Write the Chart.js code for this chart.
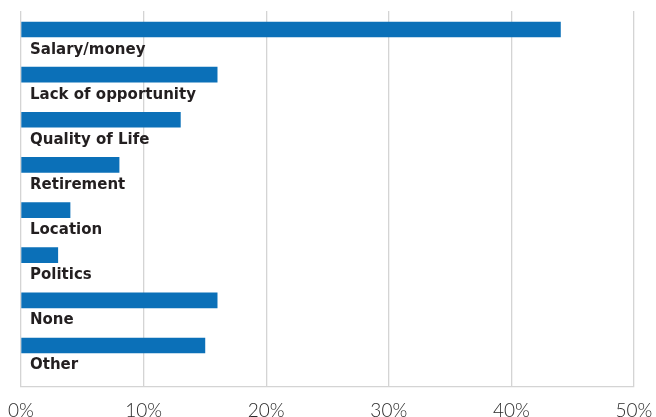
<!DOCTYPE html>
<html>
<head>
<meta charset="utf-8">
<script src="https://cdn.jsdelivr.net/npm/chart.js@4"></script>
<style>
  html, body { margin: 0; padding: 0; background: #fff; }
  #wrap { width: 656px; height: 417px; position: relative; }
</style>
</head>
<body>
<div id="wrap"><canvas id="reasons"></canvas></div>
<script>
// Reasons, share of respondents (%)
const categories = ['Salary/money', 'Lack of opportunity', 'Quality of Life', 'Retirement', 'Location', 'Politics', 'None', 'Other'];
const shares = [44, 16, 13, 8, 4, 3, 16, 15];
const xTicks = [0, 10, 20, 30, 40, 50];

const barBlue = '#0b70b8';

// Category names sit just under each bar, inside the plot
const barLabels = {
  id: 'barLabels',
  afterDatasetsDraw(chart) {
    const { ctx, scales } = chart;
    ctx.save();
    ctx.font = 'bold 15px "DejaVu Sans", sans-serif';
    ctx.fillStyle = '#231f20';
    ctx.textAlign = 'left';
    ctx.textBaseline = 'alphabetic';
    categories.forEach((name, i) => {
      const y = scales.y.getPixelForValue(i);
      ctx.fillText(name, scales.x.getPixelForValue(0) + 9, y + 24);
    });
    ctx.restore();
  }
};

new Chart(document.getElementById('reasons'), {
  type: 'bar',
  data: {
    datasets: [{
      data: shares.map((v, i) => ({ x: v, y: i })),
      backgroundColor: barBlue,
      barThickness: 15
    }]
  },
  options: {
    indexAxis: 'y',
    responsive: true,
    maintainAspectRatio: false,
    animation: false,
    layout: { padding: { left: 21, right: 22, top: 11, bottom: 0 } },
    plugins: { legend: { display: false }, tooltip: { enabled: false } },
    scales: {
      x: {
        type: 'linear',
        min: 0,
        max: 50,
        afterBuildTicks: (axis) => { axis.ticks = xTicks.map(v => ({ value: v })); },
        afterFit: (axis) => {
          axis.height = 30;
          axis.paddingLeft = 0;
          axis.paddingRight = 0;
        },
        grid: { color: '#d4d4d4', lineWidth: 1.3, drawTicks: false },
        border: { color: '#d4d4d4', width: 1.3 },
        ticks: {
          padding: 12,
          color: '#2a2a2a',
          font: { family: 'Lato, "Open Sans", sans-serif', size: 19, weight: 300 },
          callback: (v) => v + '%'
        }
      },
      y: {
        type: 'linear',
        reverse: true,
        offset: false,
        min: -0.41,
        max: 7.92,
        display: false
      }
    }
  },
  plugins: [barLabels]
});
</script>
</body>
</html>
